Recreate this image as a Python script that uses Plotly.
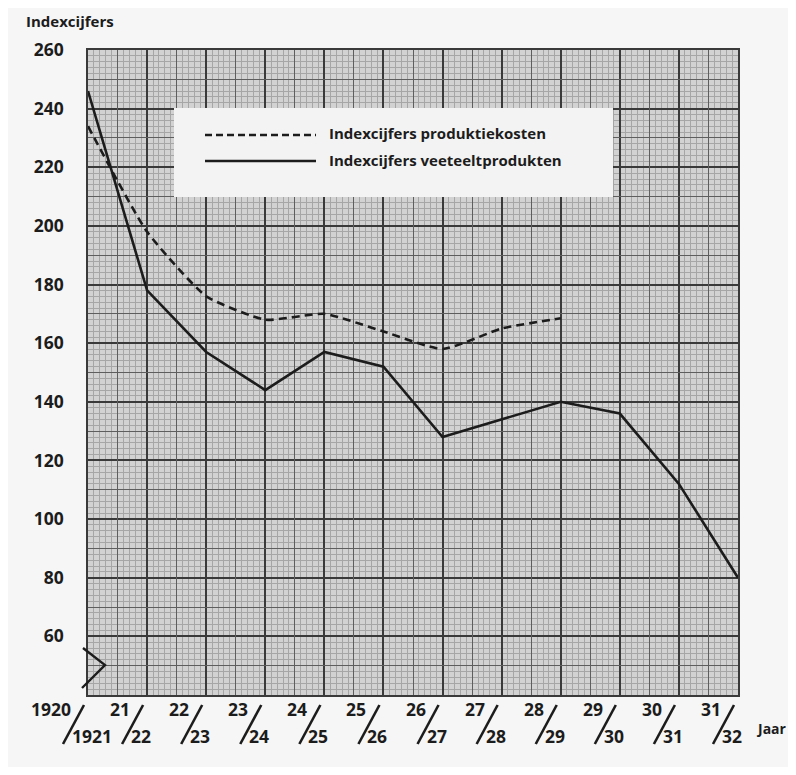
import plotly.graph_objects as go

# ---- data ----
numerators = ["1920", "21", "22", "23", "24", "25", "26", "27", "28", "29", "30", "31"]
denominators = ["1921", "22", "23", "24", "25", "26", "27", "28", "29", "30", "31", "32"]
veeteelt = [246, 178, 157, 144, 157, 152, 128, 134, 140, 136, 112, 80]
produktie = [234, 198, 176, 168, 170, 164, 158, 165, 168.5]
y_ticks = [60, 80, 100, 120, 140, 160, 180, 200, 220, 240, 260]
name_prod = "Indexcijfers produktiekosten"
name_veet = "Indexcijfers veeteeltprodukten"

# the page adds an 8px body margin; work in reference-pixel terms
OFF = 8
W, H = 796 - 2 * OFF, 775 - 2 * OFF
PL, PR, PT, PB = 88, 738, 50, 695          # plot box in reference pixels
ML, MT = PL - OFF, PT - OFF
MR, MB = W - (PR - OFF), H - (PB - OFF)
PW, PH = PR - PL, PB - PT
XMAX = len(numerators) - 1
YMIN, YMAX = 40, 260

def px2paper_x(px):
    return (px - PL) / PW

def py2paper_y(py):
    return (PB - py) / PH

xs = list(range(len(numerators)))
ink = "#1c1c1c"
font_family = "'Open Sans', 'DejaVu Sans', sans-serif"
WEIGHT = 700

fig = go.Figure()
fig.add_trace(go.Scatter(x=xs[:len(produktie)], y=produktie, mode="lines",
                         line=dict(color=ink, width=2.6, dash="8px,5px", shape="spline", smoothing=0.5),
                         name=name_prod, showlegend=False, hoverinfo="skip"))
fig.add_trace(go.Scatter(x=xs, y=veeteelt, mode="lines",
                         line=dict(color=ink, width=2.6),
                         name=name_veet, showlegend=False, hoverinfo="skip"))
# dummy trace to activate the medium-grid overlay axes
fig.add_trace(go.Scatter(x=[None], y=[None], xaxis="x2", yaxis="y2",
                         showlegend=False, hoverinfo="skip"))

major = "#3a3a3a"
medium = "#5e5e5e"
fine = "#a6a6a6"

fig.update_layout(
    width=W, height=H,
    margin=dict(l=ML, r=MR, t=MT, b=MB, pad=0),
    paper_bgcolor="#f6f6f6",
    plot_bgcolor="#d2d2d2",
    font=dict(family=font_family, color=ink),
    xaxis=dict(range=[0, XMAX], tickvals=xs, showticklabels=False, ticks="",
               showgrid=True, gridcolor=major, gridwidth=1.5, zeroline=False,
               showline=True, linecolor=major, linewidth=1.6, mirror=True,
               minor=dict(dtick=0.1, tick0=0, showgrid=True, gridcolor=fine, gridwidth=0.7)),
    yaxis=dict(range=[YMIN, YMAX], tickvals=y_ticks, ticks="", ticklabelstandoff=19,
               tickfont=dict(size=17.5, family=font_family, weight=WEIGHT, color=ink),
               showgrid=True, gridcolor=major, gridwidth=1.5, zeroline=False,
               showline=True, linecolor=major, linewidth=1.6, mirror=True,
               minor=dict(dtick=2, tick0=0, showgrid=True, gridcolor=fine, gridwidth=0.7)),
    xaxis2=dict(overlaying="x", range=[0, XMAX], tickvals=[i + 0.5 for i in xs[:-1]],
                showticklabels=False, ticks="", showgrid=True, gridcolor=medium,
                gridwidth=1.0, zeroline=False, showline=False),
    yaxis2=dict(overlaying="y", range=[YMIN, YMAX], tickvals=[v + 10 for v in range(YMIN, YMAX, 20)],
                showticklabels=False, ticks="", showgrid=True, gridcolor=medium,
                gridwidth=1.0, zeroline=False, showline=False),
)

shapes = []
annotations = []

# legend box (manual, to reproduce the long line samples)
shapes.append(dict(type="rect", xref="paper", yref="paper", layer="above",
                   x0=px2paper_x(174), x1=px2paper_x(613), y0=py2paper_y(197), y1=py2paper_y(108),
                   fillcolor="#f3f3f3", line=dict(width=0)))
shapes.append(dict(type="line", xref="paper", yref="paper",
                   x0=px2paper_x(205), x1=px2paper_x(316), y0=py2paper_y(135), y1=py2paper_y(135),
                   line=dict(color=ink, width=2.6, dash="7px,4px")))
shapes.append(dict(type="line", xref="paper", yref="paper",
                   x0=px2paper_x(205), x1=px2paper_x(316), y0=py2paper_y(161), y1=py2paper_y(161),
                   line=dict(color=ink, width=2.6)))
for name, py in [(name_prod, 133), (name_veet, 160)]:
    annotations.append(dict(text=name, xref="paper", yref="paper", x=px2paper_x(327), y=py2paper_y(py),
                            xanchor="left", yanchor="middle", showarrow=False,
                            font=dict(size=15, family=font_family, weight=WEIGHT, color=ink)))

# broken-axis zigzag
zx = [px2paper_x(p) for p in (83, 105, 82)]
zy = [py2paper_y(p) for p in (648, 665, 688)]
shapes.append(dict(type="path", xref="paper", yref="paper",
                   path=f"M{zx[0]},{zy[0]} L{zx[1]},{zy[1]} L{zx[2]},{zy[2]}",
                   line=dict(color=ink, width=2.4)))

# fraction-style x tick labels
unit = PW / XMAX
for i, (num, den) in enumerate(zip(numerators, denominators)):
    cx = PL + i * unit
    annotations.append(dict(text=num, xref="paper", yref="paper", x=px2paper_x(cx - 15), y=py2paper_y(709),
                            xanchor="right", yanchor="middle", showarrow=False,
                            font=dict(size=17.5, family=font_family, weight=WEIGHT, color=ink)))
    annotations.append(dict(text=den, xref="paper", yref="paper", x=px2paper_x(cx - 18), y=py2paper_y(736),
                            xanchor="left", yanchor="middle", showarrow=False,
                            font=dict(size=17.5, family=font_family, weight=WEIGHT, color=ink)))
    shapes.append(dict(type="line", xref="paper", yref="paper",
                       x0=px2paper_x(cx - 4), y0=py2paper_y(705), x1=px2paper_x(cx - 25), y1=py2paper_y(744),
                       line=dict(color=ink, width=2.6)))

annotations.append(dict(text="Jaar", xref="paper", yref="paper", x=px2paper_x(754), y=py2paper_y(728),
                        xanchor="left", yanchor="middle", showarrow=False,
                        font=dict(size=14, family=font_family, weight=WEIGHT, color=ink)))
annotations.append(dict(text="Indexcijfers", xref="paper", yref="paper", x=px2paper_x(24), y=py2paper_y(21),
                        xanchor="left", yanchor="middle", showarrow=False,
                        font=dict(size=15, family=font_family, weight=WEIGHT, color=ink)))

fig.update_layout(shapes=shapes, annotations=annotations)
fig.write_html("out.html")
